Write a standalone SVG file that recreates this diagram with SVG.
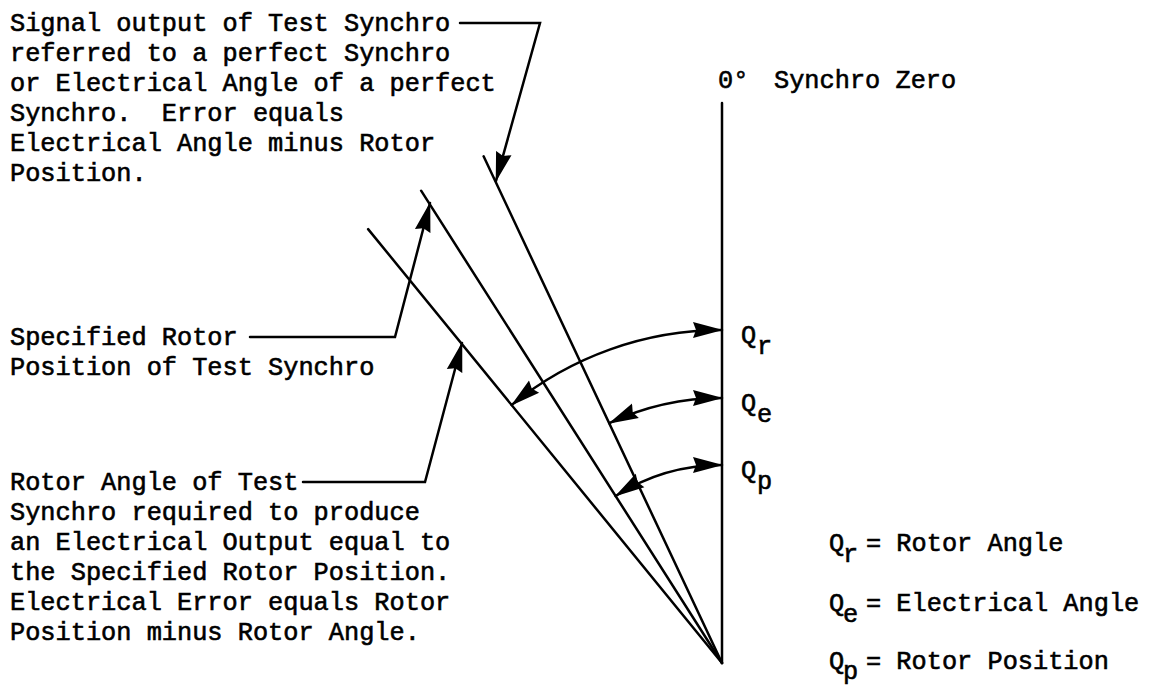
<svg xmlns="http://www.w3.org/2000/svg" width="1155" height="688" viewBox="0 0 1155 688">
<style>
text{font-family:"Liberation Mono","Courier New",monospace;font-size:25.3px;fill:#000;stroke:#000;stroke-width:0.6px}
.ln{fill:none;stroke:#000;stroke-width:2.5px;stroke-linecap:round;stroke-linejoin:miter}
.ar{marker-end:url(#ah)}
.dbl{marker-start:url(#ah);marker-end:url(#ah)}
</style>
<defs>
<marker id="ah" viewBox="0 0 30 18" refX="29" refY="9" markerWidth="30" markerHeight="18" markerUnits="userSpaceOnUse" orient="auto-start-reverse">
<path d="M0,1 L30,9 L0,17 L3,9 Z" fill="#000"/>
</marker>
</defs>
<rect width="1155" height="688" fill="#fff"/>

<g id="angle-lines">
<line class="ln" x1="722" y1="103" x2="722" y2="663"/>
<line class="ln" x1="483.6" y1="156.3" x2="722" y2="663"/>
<line class="ln" x1="421.1" y1="190.7" x2="722" y2="663"/>
<line class="ln" x1="368.1" y1="229.1" x2="722" y2="663"/>
</g>

<g id="connectors">
<path class="ln dbl" d="M511.6,405 A333,333 0 0 1 722,330"/>
<path class="ln dbl" d="M609.2,423.2 A265,265 0 0 1 722,398"/>
<path class="ln dbl" d="M615.6,496 A198,198 0 0 1 722,465"/>
<polyline class="ln ar" points="460,23 540,23 496,181"/>
<polyline class="ln ar" points="250,337 395,337 430,203"/>
<polyline class="ln ar" points="303,482 425,482 462,343"/>
</g>

<g id="note-signal-output">
<text x="10" y="31">Signal output of Test Synchro</text>
<text x="10" y="61">referred to a perfect Synchro</text>
<text x="10" y="91">or Electrical Angle of a perfect</text>
<text x="10" y="121" xml:space="preserve">Synchro.  Error equals</text>
<text x="10" y="151">Electrical Angle minus Rotor</text>
<text x="10" y="181">Position.</text>
</g>

<g id="note-specified-position">
<text x="10" y="345">Specified Rotor</text>
<text x="10" y="375">Position of Test Synchro</text>
</g>

<g id="note-rotor-angle">
<text x="10" y="490">Rotor Angle of Test</text>
<text x="10" y="520">Synchro required to produce</text>
<text x="10" y="550">an Electrical Output equal to</text>
<text x="10" y="580">the Specified Rotor Position.</text>
<text x="10" y="610">Electrical Error equals Rotor</text>
<text x="10" y="640">Position minus Rotor Angle.</text>
</g>

<g id="synchro-zero">
<text x="718" y="88">0°</text>
<text x="774" y="88">Synchro Zero</text>
</g>

<g id="label-qr"><text x="741" y="343">Q</text><text x="757" y="354">r</text></g>
<g id="label-qe"><text x="741" y="411">Q</text><text x="757" y="422">e</text></g>
<g id="label-qp"><text x="741" y="478">Q</text><text x="757" y="489">p</text></g>

<g id="legend">
<text x="829" y="551">Q</text><text x="843" y="562">r</text><text x="866" y="551">= Rotor Angle</text>
<text x="829" y="611">Q</text><text x="843" y="622">e</text><text x="866" y="611">= Electrical Angle</text>
<text x="829" y="669">Q</text><text x="843" y="679">p</text><text x="866" y="669">= Rotor Position</text>
</g>
</svg>
